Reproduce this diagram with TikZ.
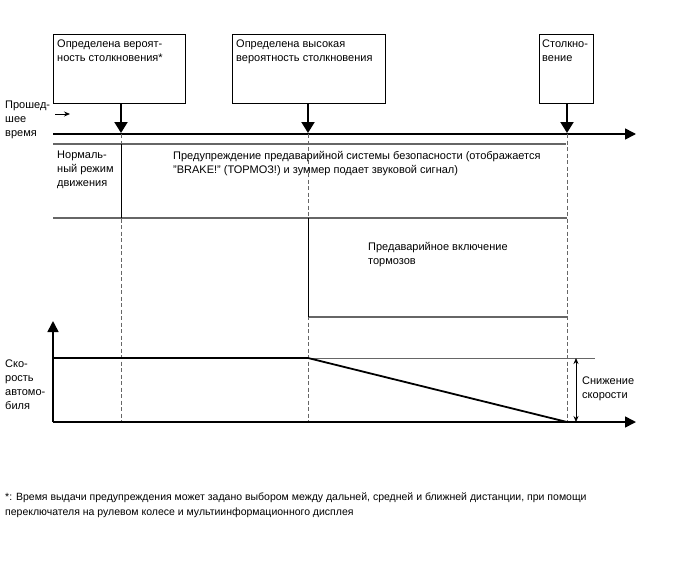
\documentclass[tikz,border=0pt]{standalone}
\usepackage{fontspec}
\setmainfont{Liberation Sans}
\usetikzlibrary{arrows.meta}
\begin{document}
\begin{tikzpicture}[x=1pt,y=-1pt,
  txt/.style={font=\fontsize{11}{14}\selectfont, align=left, inner sep=0pt, anchor=north west},
  evbox/.style={draw=black, line width=0.9pt, anchor=north west, inner sep=0pt},
  evarrow/.style={line width=2pt, -{Triangle[length=11pt,width=13pt]}},
  axisline/.style={line width=1.6pt, -{Triangle[length=11pt,width=11pt]}},
  rowline/.style={draw=black!60, line width=1.2pt},
  guide/.style={draw=black!60, line width=0.7pt, dash pattern=on 4pt off 2.5pt},
  speed/.style={line width=1.8pt},
  thinarrow/.style={line width=0.8pt, -{Stealth[length=6pt,width=5pt]}}]
\useasboundingbox (0,0) rectangle (688,560);

% event boxes
\node[evbox, minimum width=132pt, minimum height=69pt] (b1) at (53,34) {};
\node[evbox, minimum width=153pt, minimum height=69pt] (b2) at (232,34) {};
\node[evbox, minimum width=54pt, minimum height=69pt] (b3) at (539,34) {};
\node[txt] (t1) at (57,40) {Определена вероят-\\ность столкновения*};
\node[txt] (t2) at (236,40) {Определена высокая\\вероятность столкновения};
\node[txt] (t3) at (542,40) {Столкно-\\вение};

% time axis
\coordinate (axL) at (53,134);
\coordinate (axR) at (636,134);
\draw[axisline] (axL) -- (axR);
\coordinate (a1) at (121,133);
\coordinate (a2) at (308,133);
\coordinate (a3) at (567,133);
\draw[evarrow] (b1.south -| a1) -- (a1);
\draw[evarrow] (b2.south -| a2) -- (a2);
\draw[evarrow] (b3.south -| a3) -- (a3);

\node[txt] (el) at (5,101) {Прошед-\\шее\\время};
\coordinate (sa1) at (55,114);
\coordinate (sa2) at (70,114);
\draw[thinarrow] (sa1) -- (sa2);

% dashed guides
\coordinate (g1t) at (121,134); \coordinate (g1b) at (121,422);
\coordinate (g2t) at (308,134); \coordinate (g2b) at (308,422);
\coordinate (g3t) at (567,134); \coordinate (g3b) at (567,422);
\draw[guide] (g1t) -- (g1b);
\draw[guide] (g2t) -- (g2b);
\draw[guide] (g3t) -- (g3b);

% rows
\coordinate (r1L) at (53,144); \coordinate (r1R) at (566,144);
\coordinate (r2L) at (53,218); \coordinate (r2R) at (567,218);
\coordinate (r3L) at (308,317); \coordinate (r3R) at (567,317);
\draw[rowline] (r1L) -- (r1R);
\draw[rowline] (r2L) -- (r2R);
\draw[rowline] (r3L) -- (r3R);
\coordinate (v1t) at (121,144); \coordinate (v1b) at (121,218);
\coordinate (v2t) at (308,218); \coordinate (v2b) at (308,317);
\draw[line width=0.9pt] (v1t) -- (v1b);
\draw[line width=0.9pt] (v2t) -- (v2b);

\node[txt] (n1) at (57,151) {Нормаль-\\ный режим\\движения};
\node[txt] (w1) at (173,151) {Предупреждение предаварийной системы безопасности (отображается\\"BRAKE!" (ТОРМОЗ!) и зуммер подает звуковой сигнал)};
\node[txt] (p1) at (368,242) {Предаварийное включение\\тормозов};

% speed chart
\coordinate (o) at (53,422);
\coordinate (yT) at (53,321);
\coordinate (xR) at (636,422);
\draw[axisline] (o) -- (yT);
\draw[axisline] (o) -- (xR);
\coordinate (s0) at (53,358);
\coordinate (s1) at (308,358);
\coordinate (s2) at (567,422);
\coordinate (sg) at (595,358);
\draw[rowline, line width=1pt] (s1) -- (sg);
\draw[speed] (s0) -- (s1) -- (s2);
\coordinate (d1) at (576,358);
\coordinate (d2) at (576,422);
\draw[line width=0.8pt, {Stealth[length=6pt,width=5pt]}-{Stealth[length=6pt,width=5pt]}] (d1) -- (d2);
\node[txt] (sn) at (582,377) {Снижение\\скорости};
\node[txt] (sp) at (5,360) {Ско-\\рость\\автомо-\\биля};

% footnote
\node[txt, font=\fontsize{10.5}{15.5}\selectfont] (fn) at (5,492) {*: Время выдачи предупреждения может задано выбором между дальней, средней и ближней дистанции, при помощи\\переключателя на рулевом колесе и мультиинформационного дисплея};
\end{tikzpicture}
\end{document}
